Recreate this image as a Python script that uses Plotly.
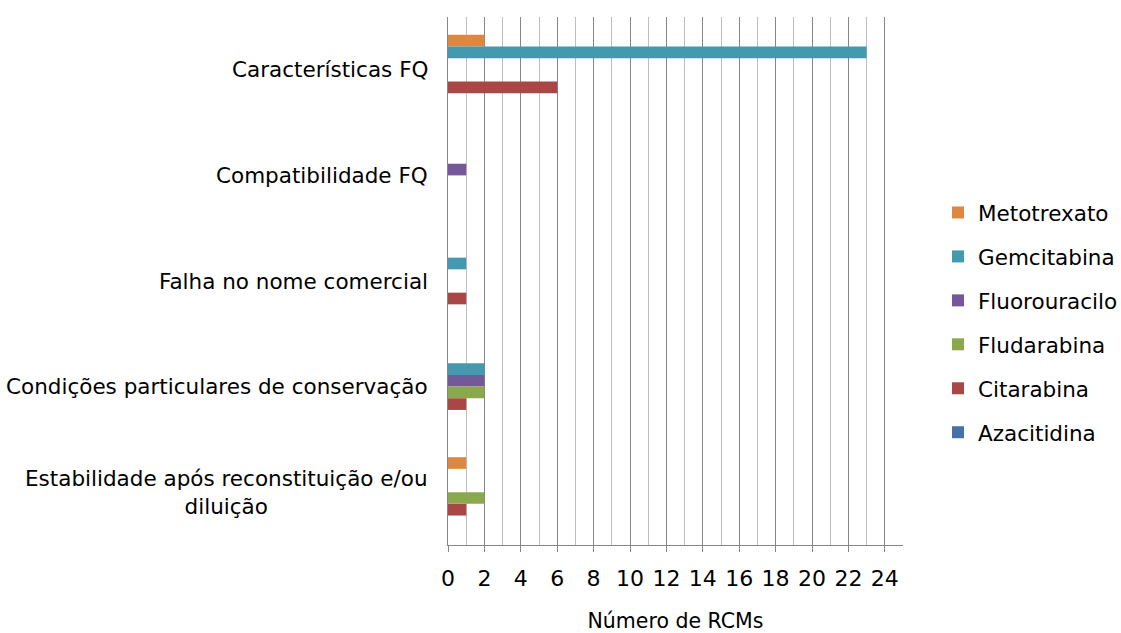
import plotly.graph_objects as go

categories = [
    "Características FQ",
    "Compatibilidade FQ",
    "Falha no nome comercial",
    "Condições particulares de conservação",
    "Estabilidade após reconstituição e/ou<br>diluição",
]

series_names = ["Metotrexato", "Gemcitabina", "Fluorouracilo", "Fludarabina", "Citarabina", "Azacitidina"]

metotrexato = [2, 0, 0, 0, 1]
gemcitabina = [23, 0, 1, 2, 0]
fluorouracilo = [0, 1, 0, 2, 0]
fludarabina = [0, 0, 0, 2, 2]
citarabina = [6, 0, 1, 1, 1]
azacitidina = [0, 0, 0, 0, 0]

series_values = [metotrexato, gemcitabina, fluorouracilo, fludarabina, citarabina, azacitidina]
colors = ["#DD8840", "#4399AE", "#74589A", "#8BA84C", "#A94646", "#4672A8"]

tick_vals = list(range(0, 25, 2))
tick_text = [str(v) for v in tick_vals]

FONT = "Tahoma, DejaVu Sans, sans-serif"

fig = go.Figure()
for name, vals, col in zip(series_names, series_values, colors):
    fig.add_trace(go.Bar(
        y=categories, x=vals, name=name, orientation="h",
        marker=dict(color=col, line=dict(width=0)),
        legendgroup=name,
    ))

# category labels, centred line by line
for cat in categories:
    fig.add_annotation(
        x=0, xref="paper", y=cat, yref="y",
        text=cat, showarrow=False, xanchor="right", align="center",
        xshift=-18, font=dict(family=FONT, size=21.5, color="#000"),
    )

fig.update_layout(
    width=1121, height=633,
    margin=dict(l=448, r=218, t=17, b=88, autoexpand=False),
    paper_bgcolor="white", plot_bgcolor="white",
    barmode="group", bargap=0.337, bargroupgap=0,
    font=dict(family=FONT, size=20, color="#000"),
    showlegend=True,
    legend=dict(
        xref="container", yref="container",
        x=938 / 1121, y=1 - 192 / 633, xanchor="left", yanchor="top",
        traceorder="grouped", tracegroupgap=13,
        font=dict(family=FONT, size=21.5, color="#000"),
        itemwidth=30,
    ),
    xaxis=dict(
        range=[0, 25], tickvals=tick_vals, ticktext=tick_text,
        automargin=False,
        showgrid=True, gridcolor="#868686", gridwidth=1,
        minor=dict(dtick=1, showgrid=True, gridcolor="#BFBFBF", gridwidth=1, ticks=""),
        ticks="outside", ticklen=6, tickcolor="#868686",
        ticklabelstandoff=8,
        showline=True, linecolor="#868686", linewidth=1,
        zeroline=False,
        tickfont=dict(family=FONT, size=22, color="#000"),
        title=dict(text="Número de RCMs", standoff=27,
                   font=dict(family=FONT, size=20.5, color="#000")),
    ),
    yaxis=dict(
        autorange="reversed", showticklabels=False, ticks="",
        automargin=False,
        showline=True, linecolor="#868686", linewidth=1,
        showgrid=False, zeroline=False,
    ),
)

fig.write_html("out.html")
